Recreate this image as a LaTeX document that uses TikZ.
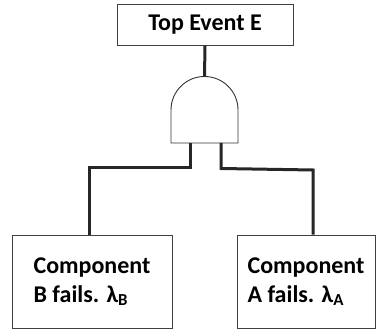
\documentclass[tikz,border=0pt]{standalone}
\usepackage{fontspec}
\setmainfont{Carlito}
\begin{document}
\begin{tikzpicture}[x=1pt,y=1pt,
  box/.style={draw=black!75, line width=0.9pt, fill=white, inner sep=0pt,
    font=\bfseries\fontsize{24}{29}\selectfont},
  wire/.style={line width=3pt, black!85, line join=miter},
  gateline/.style={draw=black!80, line width=0.9pt, fill=white}]
\useasboundingbox (0,0) rectangle (387,331);
% event boxes
\node[box, minimum width=176pt, minimum height=41pt] (top) at (205,306.5) {Top Event E};
\node[box, minimum width=160pt, minimum height=93pt, align=left] (compB) at (92,49.5)
  {Component\\B fails. λ\textsubscript{B}};
\node[box, minimum width=138pt, minimum height=93pt, align=left] (compA) at (306,49.5)
  {Component\\A fails. λ\textsubscript{A}};
% AND gate body
\coordinate (gate) at (204.5,221);
\path[gateline] (171,188) -- (171,221) arc[start angle=180, end angle=0, radius=33.5] -- (238,188) -- cycle;
\coordinate (gatetop) at (204.5,254.5);
\coordinate (legL) at (190,188);
\coordinate (legR) at (221,188);
\coordinate (bendL) at (190,163);
\coordinate (bendR) at (221,162.5);
\coordinate (dropL) at (89,163);
\coordinate (dropR) at (313,161);
% connectors
\draw[wire] (top.south) -- (gatetop);
\draw[wire] (legL) -- (bendL) -- (dropL) -- (dropL |- compB.north);
\draw[wire] (legR) -- (bendR) -- (dropR) -- (dropR |- compA.north);
\end{tikzpicture}
\end{document}
